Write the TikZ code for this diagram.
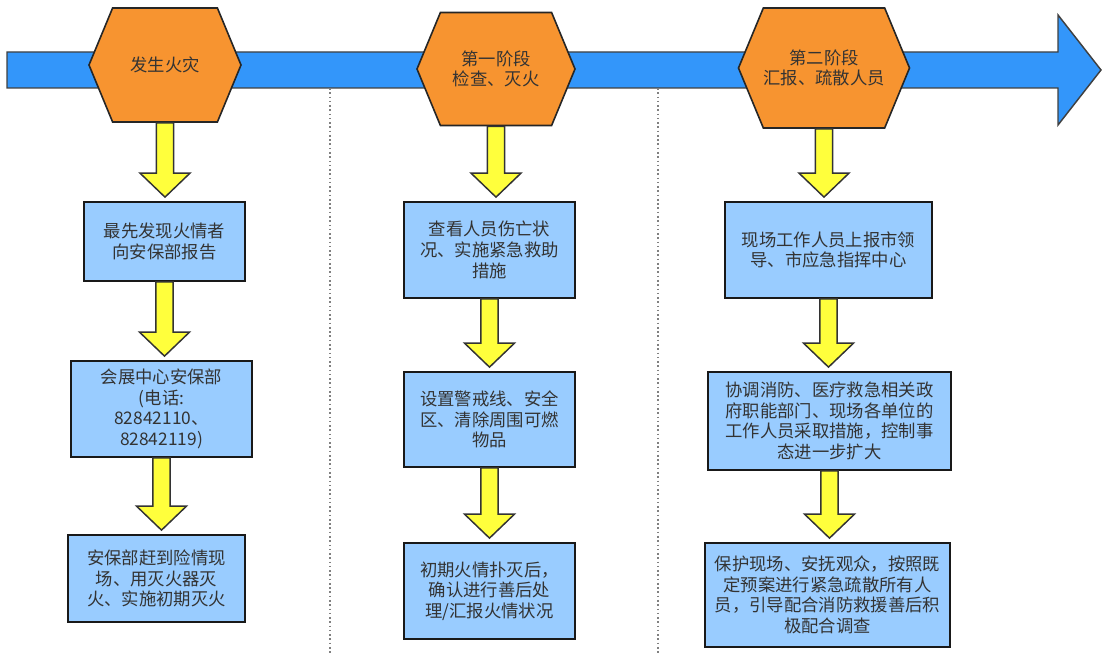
\documentclass[tikz,border=0pt]{standalone}
\usepackage{fontspec}
\setmainfont{Noto Sans CJK SC}
\usetikzlibrary{shapes.symbols,calc}
\definecolor{barblue}{RGB}{51,150,250}
\definecolor{hexorange}{RGB}{247,148,48}
\definecolor{boxblue}{RGB}{153,204,255}
\definecolor{arryellow}{RGB}{255,255,60}
\definecolor{txtgray}{RGB}{51,51,51}
\tikzset{
  phase/.style={signal, signal to=east and west, signal pointer angle=135,
    draw=black!85, line width=1.2pt, fill=hexorange, text=txtgray,
    align=center, inner sep=0pt},
  task/.style={draw=black!90, line width=1.3pt, fill=boxblue, text=txtgray,
    align=center, inner sep=0pt},
  boxsize/.style 2 args={minimum width=#1*0.75pt, minimum height=#2*0.75pt},
  fwarr/.style={draw=black!80, line width=1.1pt, fill=arryellow, line join=miter}
}
% yellow block arrow from node #1 down to node #2
\newcommand{\downarr}[2]{%
  \draw[fwarr] let \p1=(#1.south), \p2=(#2.north) in
    (\x1-6.4pt,\y1) -- (\x1-6.4pt,\y2+21pt) -- (\x1-18.75pt,\y2+21pt)
    -- (\x1,\y2+3pt) -- (\x1+18.75pt,\y2+21pt) -- (\x1+6.4pt,\y2+21pt)
    -- (\x1+6.4pt,\y1) -- cycle;}

\begin{document}
\begin{tikzpicture}[x=0.75pt, y=-0.75pt, font=\fontsize{13pt}{15.5pt}\selectfont]
\useasboundingbox (0,0) rectangle (1103,655);

% time line
\draw[draw=black!75, line width=1.1pt, fill=barblue]
  (7,52) -- (1058,52) -- (1058,15) -- (1101,70) -- (1058,125) -- (1058,88) -- (7,88) -- cycle;
\draw[gray, dotted, line width=1.2pt] (330,88) -- (330,655);
\draw[gray, dotted, line width=1.2pt] (658,88) -- (658,655);

% phases
\node[phase, boxsize={152}{114}] (ph0) at (165,65) {发生火灾};
\node[phase, boxsize={158}{113}] (ph1) at (496,69) {第一阶段\\检查、灭火};
\node[phase, boxsize={158}{120}] (ph2) at (824,68) {第二阶段\\汇报、疏散人员};

% column 1
\node[task, boxsize={161}{79}] (a1) at (164.5,241.5) {最先发现火情者\\向安保部报告};
\node[task, boxsize={181}{96}] (a2) at (161.5,409) {会展中心安保部\\(电话:\\82842110、\\82842119)};
\node[task, boxsize={177}{87}] (a3) at (156.5,578.5) {安保部赶到险情现\\场、用灭火器灭\\火、实施初期灭火};

% column 2
\node[task, boxsize={171}{96}] (b1) at (489.5,250) {查看人员伤亡状\\况、实施紧急救助\\措施};
\node[task, boxsize={171}{95}] (b2) at (489.5,419.5) {设置警戒线、安全\\区、清除周围可燃\\物品};
\node[task, boxsize={171}{96}] (b3) at (489.5,591) {初期火情扑灭后，\\确认进行善后处\\理/汇报火情状况};

% column 3
\node[task, boxsize={207}{96}] (c1) at (828.5,250) {现场工作人员上报市领\\导、市应急指挥中心};
\node[task, boxsize={243}{98}] (c2) at (829.5,421) {协调消防、医疗救急相关政\\府职能部门、现场各单位的\\工作人员采取措施，控制事\\态进一步扩大};
\node[task, boxsize={245}{104}] (c3) at (827.5,595) {保护现场、安抚观众，按照既\\定预案进行紧急疏散所有人\\员，引导配合消防救援善后积\\极配合调查};

% arrows
\downarr{ph0}{a1}
\downarr{a1}{a2}
\downarr{a2}{a3}
\downarr{ph1}{b1}
\downarr{b1}{b2}
\downarr{b2}{b3}
\downarr{ph2}{c1}
\downarr{c1}{c2}
\downarr{c2}{c3}
\end{tikzpicture}
\end{document}
